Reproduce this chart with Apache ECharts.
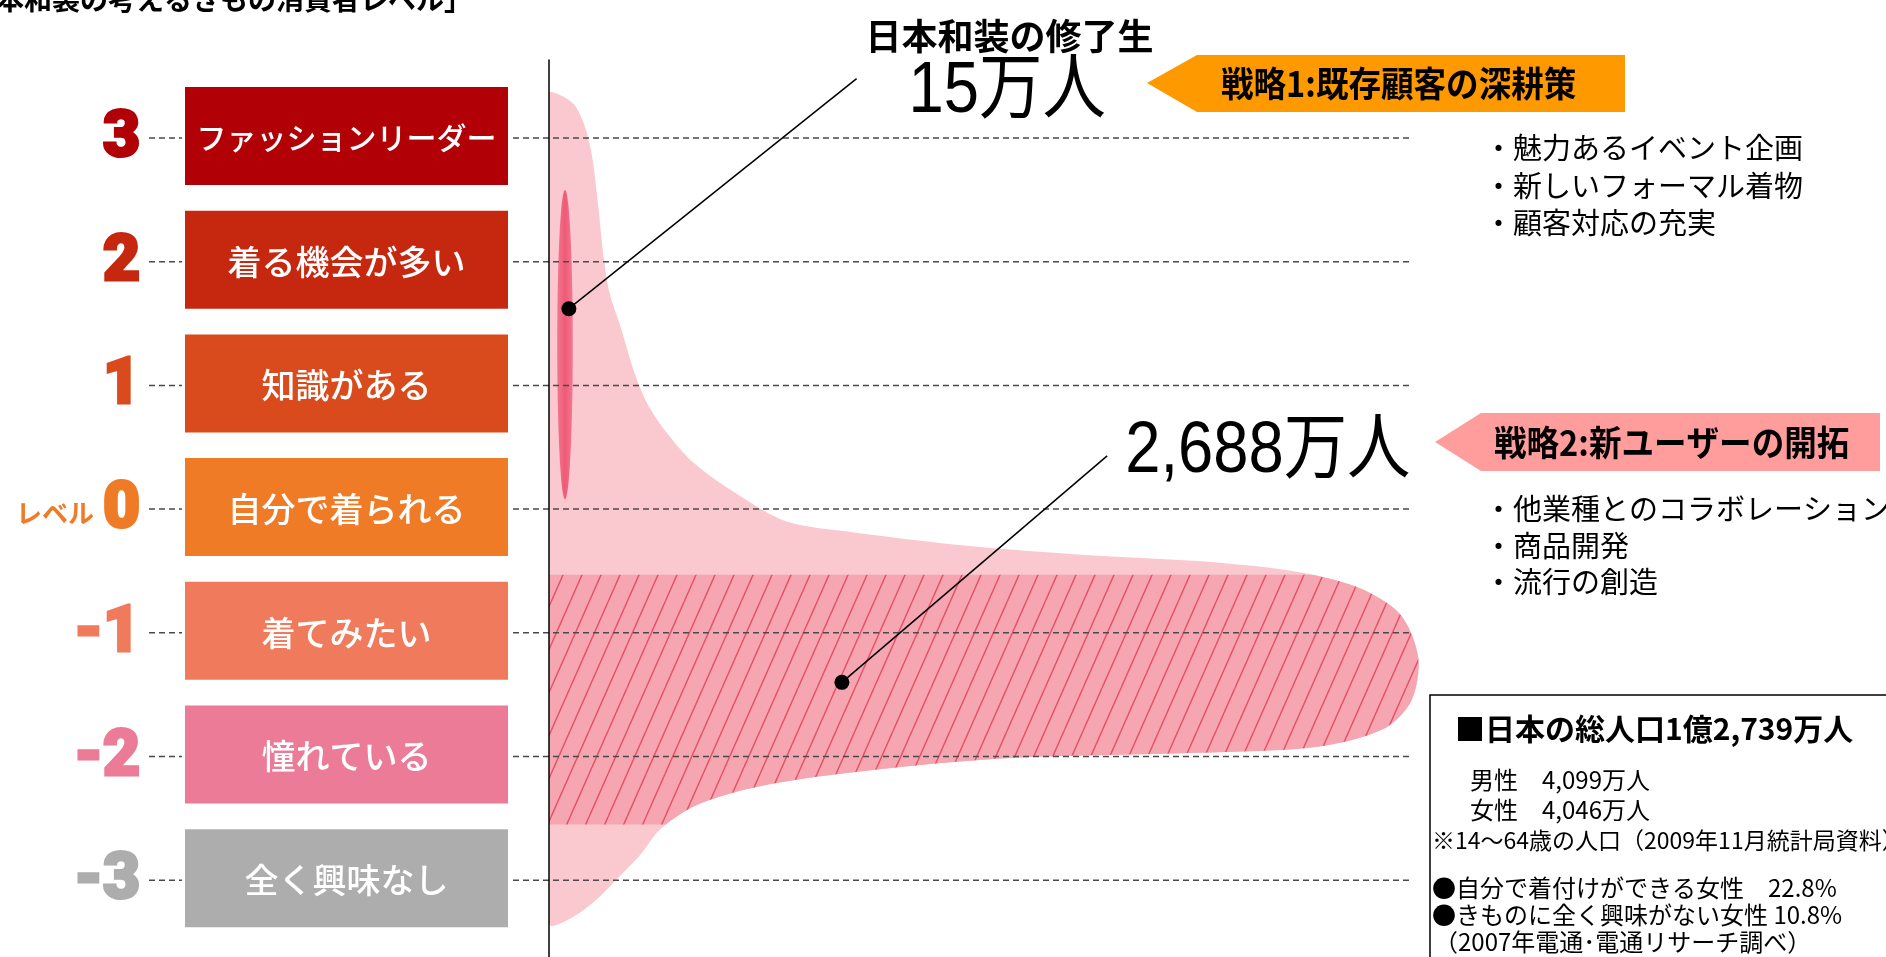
<!DOCTYPE html>
<html>
<head>
<meta charset="utf-8">
<script src="https://cdn.jsdelivr.net/npm/echarts@6/dist/echarts.min.js"></script>
<style>
  html, body { margin: 0; padding: 0; background: #ffffff; }
  #chart { width: 1886px; height: 957px; }
</style>
</head>
<body>
<div id="chart"></div>
<script>
// ---- consumer levels ----
const levelValues = [3, 2, 1, 0, -1, -2, -3];
const levelNumerals = ['3', '2', '1', '0', '-1', '-2', '-3'];
const levelNames = ['ファッションリーダー', '着る機会が多い', '知識がある', '自分で着られる', '着てみたい', '憧れている', '全く興味なし'];
const levelPrefix = ['', '', '', 'レベル', '', '', ''];

// ---- population profile: relative reach (0-100) at each level ----
const funnelWidth = [0, 1.5, 2.9, 3.9, 4.6, 5.1, 5.7, 6.3, 7.0, 8.3, 9.9, 11.4, 13.6, 16.8, 21.8, 27.5, 35.5, 49.0, 62.0, 75.0, 86.0, 93.5, 98.5, 100.6, 99.8, 96.5, 89.0, 75.0, 53.9, 39.9, 25.8, 17.5, 13.0, 10.5, 8.0, 5.6, 2.7, 0];
const funnelLevel = [3.36, 3.34, 3.27, 3.14, 2.98, 2.80, 2.45, 2.05, 1.75, 1.47, 1.10, 0.85, 0.62, 0.37, 0.12, -0.10, -0.19, -0.30, -0.37, -0.42, -0.50, -0.63, -0.85, -1.20, -1.55, -1.78, -1.92, -1.97, -2.01, -2.09, -2.22, -2.38, -2.58, -2.80, -2.98, -3.15, -3.30, -3.35];

// target segment for new users (level range)
const newUserBand = [-0.53, -2.55];
// graduates segment: centre [reach, level] and half extents
const graduateCenter = [1.85, 1.33];
const graduateHalf = [0.9, 1.25];

// ---- callouts: people (万人), marker point and leader end [reach, level] ----
const calloutTitles = ['日本和装の修了生', ''];
const calloutPeople = [15, 2688];
const calloutDot = [[2.3, 1.62], [33.9, -1.40]];
const calloutEnd = [[35.6, 3.48], [64.6, 0.43]];

// ---- strategy panels ----
const strategyTitles = ['戦略1:既存顧客の深耕策', '戦略2:新ユーザーの開拓'];
const strategy1Items = ['・魅力あるイベント企画', '・新しいフォーマル着物', '・顧客対応の充実'];
const strategy2Items = ['・他業種とのコラボレーション', '・商品開発', '・流行の創造'];

// ---- population facts ----
const factTitle = '■日本の総人口1億2,739万人';
const factLines = ['男性　4,099万人', '女性　4,046万人'];
const factNote = '※14～64歳の人口（2009年11月統計局資料）';
const surveyLines = ['●自分で着付けができる女性　22.8%', '●きものに全く興味がない女性 10.8%', '（2007年電通･電通リサーチ調べ）'];

const pageTitle = '「日本和装の考えるきもの消費者レベル」';

// ---- styling ----
const levelColors = ['#b10006', '#c5280f', '#d94b1d', '#ef7b27', '#ef7b5c', '#eb7b97', '#adadad'];
const JP = "'Noto Sans CJK JP', sans-serif";
const NUM = "'Liberation Sans', 'Noto Sans CJK JP', sans-serif";
const calloutLayout = [
  { label: [52, 14], title: [153, -42] },
  { label: [18, -4], title: null }
];

// diagonal hatch tile for the new-user band
const hatch = document.createElement('canvas');
hatch.width = 19; hatch.height = 43;
(function () {
  const c = hatch.getContext('2d');
  c.fillStyle = '#f5a6b1';
  c.fillRect(0, 0, 19, 43);
  c.strokeStyle = '#e84d64';
  c.lineWidth = 1.4;
  for (let k = -1; k <= 1; k++) {
    c.beginPath();
    c.moveTo(k * 19, 43);
    c.lineTo(k * 19 + 19, 0);
    c.stroke();
  }
})();

function txt(x, y, text, font, fill, align, valign, sx) {
  const el = {
    type: 'text', x: x, y: y,
    style: {
      text: text, font: font, fill: fill,
      align: align || 'left', textAlign: align || 'left',
      verticalAlign: valign || 'middle', textVerticalAlign: valign || 'middle'
    }
  };
  if (sx) { el.scaleX = sx; }
  return el;
}

function renderFunnel(params, api) {
  if (params.dataIndexInside !== 0) return null;
  const cs = params.coordSys;
  const pts = [];
  const n = params.dataInsideLength;
  for (let k = 0; k < n; k++) {
    pts.push(api.coord([api.value(0, k), api.value(1, k)]));
  }
  const yTop = api.coord([0, newUserBand[0]])[1];
  const yBot = api.coord([0, newUserBand[1]])[1];
  return {
    type: 'group',
    children: [
      {
        type: 'polygon', shape: { points: pts, smooth: 0.3 },
        style: { fill: '#f9c9cf' },
        clipPath: { type: 'rect', shape: { x: cs.x, y: cs.y, width: cs.width + 40, height: cs.height } }
      },
      {
        type: 'polygon', shape: { points: pts, smooth: 0.3 },
        style: { fill: { image: hatch, repeat: 'repeat' } },
        clipPath: { type: 'rect', shape: { x: cs.x, y: yTop, width: cs.width + 40, height: yBot - yTop } }
      }
    ]
  };
}

function renderGraduates(params, api) {
  const c = api.coord([api.value(0), api.value(1)]);
  const rx = api.size([graduateHalf[0], 0])[0];
  const ry = api.size([0, graduateHalf[1]])[1];
  return {
    type: 'ellipse',
    shape: { cx: c[0], cy: c[1], rx: rx, ry: ry },
    style: {
      fill: new echarts.graphic.LinearGradient(0, 0, 1, 0, [
        { offset: 0, color: '#f27890' },
        { offset: 0.5, color: '#ef5a76' },
        { offset: 1, color: '#f27890' }
      ])
    }
  };
}

function renderLevel(params, api) {
  const i = params.dataIndex;
  const level = api.value(1);
  const y = api.coord([0, level])[1];
  const xEnd = api.coord([100, level])[0];
  const color = levelColors[i];
  const dash = { stroke: '#4a4a4a', lineWidth: 1.5, lineDash: [6, 4] };
  const name = levelNames[i];
  const fs = Math.min(34, 300 / name.length);
  const numeral = txt(140, y + 2, levelNumerals[i], '900 64px Roboto, sans-serif', color, 'right');
  numeral.style.stroke = color;
  numeral.style.lineWidth = 3;
  const children = [
    { type: 'line', shape: { x1: 149, y1: y, x2: 182, y2: y }, style: dash },
    { type: 'line', shape: { x1: 513, y1: y, x2: xEnd, y2: y }, style: dash },
    { type: 'rect', shape: { x: 185, y: y - 51, width: 323, height: 98 }, style: { fill: color } },
    txt(346.5, y, name, '500 ' + fs + 'px ' + JP, '#ffffff', 'center'),
    numeral
  ];
  if (levelPrefix[i]) {
    children.push(txt(94, y + 4, levelPrefix[i], '700 26px ' + JP, color, 'right'));
  }
  return { type: 'group', children: children };
}

function renderCallout(params, api) {
  const i = params.dataIndex;
  const dot = api.coord([api.value(0), api.value(1)]);
  const end = api.coord([api.value(2), api.value(3)]);
  const lay = calloutLayout[i];
  const label = calloutPeople[i].toLocaleString('en-US') + '万人';
  const children = [
    { type: 'line', shape: { x1: dot[0], y1: dot[1], x2: end[0], y2: end[1] }, style: { stroke: '#000', lineWidth: 1.5 } },
    { type: 'circle', shape: { cx: dot[0], cy: dot[1], r: 7.5 }, style: { fill: '#000' } },
    txt(end[0] + lay.label[0], end[1] + lay.label[1], label, '72px ' + NUM, '#000', 'left', 'middle', 0.88)
  ];
  if (lay.title && calloutTitles[i]) {
    children.push(txt(end[0] + lay.title[0], end[1] + lay.title[1], calloutTitles[i], '700 36px ' + JP, '#000', 'center'));
  }
  return { type: 'group', children: children };
}

const graphics = [];
graphics.push(txt(-60, -1, pageTitle, '700 28px ' + JP, '#000', 'left'));
// strategy 1 arrow
graphics.push({ type: 'polygon', shape: { points: [[1147, 83], [1197, 55], [1625, 55], [1625, 112], [1197, 112]] }, style: { fill: '#ff9900' } });
graphics.push(txt(1221, 84, strategyTitles[0], '700 35px ' + JP, '#000', 'left', 'middle', 0.93));
strategy1Items.forEach(function (s, k) { graphics.push(txt(1484, 148 + k * 37.5, s, '29px ' + JP, '#000', 'left')); });
// strategy 2 arrow
graphics.push({ type: 'polygon', shape: { points: [[1435, 442], [1481, 413], [1880, 413], [1880, 471], [1481, 471]] }, style: { fill: '#ff9c9c' } });
graphics.push(txt(1494, 443, strategyTitles[1], '700 35px ' + JP, '#000', 'left', 'middle', 0.93));
strategy2Items.forEach(function (s, k) { graphics.push(txt(1484, 509 + k * 36.5, s, '29px ' + JP, '#000', 'left')); });
// facts panel
graphics.push({ type: 'rect', shape: { x: 1430, y: 695, width: 470, height: 275 }, style: { fill: '#fff', stroke: '#000', lineWidth: 1.5 } });
graphics.push(txt(1455, 729, factTitle, '700 30px ' + JP, '#000', 'left'));
factLines.forEach(function (s, k) { graphics.push(txt(1470, 780 + k * 30, s, '24px ' + JP, '#000', 'left')); });
graphics.push(txt(1432, 840, factNote, '23px ' + JP, '#000', 'left'));
surveyLines.forEach(function (s, k) { graphics.push(txt(k === 2 ? 1434 : 1432, 888 + k * 27, s, '24px ' + JP, '#000', 'left')); });

const chart = echarts.init(document.getElementById('chart'), null, { renderer: 'canvas' });
chart.setOption({
  animation: false,
  backgroundColor: '#ffffff',
  grid: { left: 549, right: 473, top: 60, bottom: 0, containLabel: false },
  xAxis: { type: 'value', min: 0, max: 100, show: false },
  yAxis: {
    type: 'value', min: -3.62, max: 3.63, z: 10,
    axisLine: { show: true, onZero: false, lineStyle: { color: '#000', width: 1.5 } },
    axisTick: { show: false }, axisLabel: { show: false }, splitLine: { show: false }
  },
  graphic: graphics,
  series: [
    { type: 'custom', name: 'population', z: 1, renderItem: renderFunnel,
      data: funnelWidth.map(function (w, k) { return [w, funnelLevel[k]]; }) },
    { type: 'custom', name: 'graduates', z: 2, renderItem: renderGraduates,
      data: [graduateCenter] },
    { type: 'custom', name: 'levels', z: 3, renderItem: renderLevel,
      data: levelValues.map(function (v) { return [0, v]; }) },
    { type: 'custom', name: 'callouts', z: 4, renderItem: renderCallout,
      data: calloutDot.map(function (d, k) { return [d[0], d[1], calloutEnd[k][0], calloutEnd[k][1]]; }) }
  ]
});
</script>
</body>
</html>
